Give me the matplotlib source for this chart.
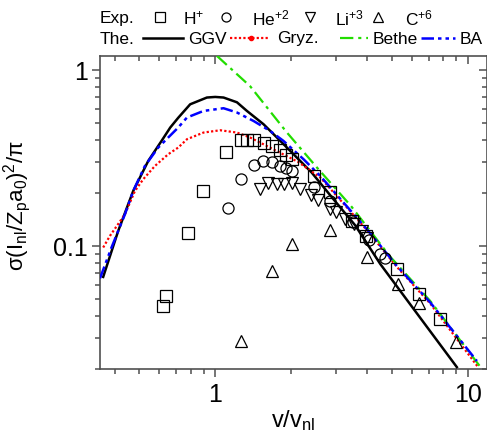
import matplotlib
matplotlib.use("Agg")
import matplotlib.pyplot as plt
from matplotlib.lines import Line2D
from matplotlib.ticker import FixedLocator, LogLocator, NullFormatter

plt.rcParams["font.family"] = ["Liberation Sans", "DejaVu Sans"]
plt.rcParams["mathtext.fontset"] = "custom"
plt.rcParams["mathtext.rm"] = "Liberation Sans"
plt.rcParams["mathtext.it"] = "Liberation Sans:italic"

# experimental points (v/v_nl, reduced cross section)
h_x = [0.638, 0.619, 0.780, 0.894, 1.105, 1.264, 1.342, 1.418, 1.553, 1.677, 1.807,
       1.91, 2.012, 2.465, 2.834, 3.475, 3.96, 5.24, 6.375, 7.77]
h_y = [0.052, 0.0456, 0.119, 0.205, 0.343, 0.399, 0.399, 0.399, 0.387, 0.370, 0.350,
       0.329, 0.311, 0.249, 0.203, 0.1387, 0.114, 0.0738, 0.0532, 0.0383]

he_x = [1.119, 1.264, 1.418, 1.544, 1.677, 1.797, 1.905, 2.012, 2.465, 2.834, 3.507,
        4.043, 4.5, 4.71]
he_y = [0.164, 0.239, 0.287, 0.302, 0.298, 0.285, 0.276, 0.267, 0.216, 0.180, 0.137,
        0.108, 0.0897, 0.0851]

li_x = [1.507, 1.625, 1.754, 1.88, 2.012, 2.17, 2.39, 2.54, 2.85, 3.01, 3.27, 3.53,
        3.81, 3.98]
li_y = [0.212, 0.229, 0.226, 0.226, 0.229, 0.212, 0.195, 0.182, 0.163, 0.155, 0.143,
        0.133, 0.1217, 0.1116]

c_x = [1.267, 1.677, 2.012, 2.834, 3.98, 5.31, 6.375, 8.99]
c_y = [0.0289, 0.0721, 0.102, 0.123, 0.087, 0.0606, 0.0477, 0.0283]

# theory curves
ggv_x = [0.3603, 0.4131, 0.4737, 0.5431, 0.6131, 0.664, 0.714, 0.796, 0.927, 1.0,
         1.079, 1.219, 1.335, 1.553, 1.755, 1.98, 2.41, 2.94, 3.58, 4.5, 6.48, 9.04]
ggv_y = [0.0667, 0.1217, 0.2053, 0.304, 0.395, 0.471, 0.535, 0.638, 0.697, 0.7024,
         0.697, 0.655, 0.585, 0.4915, 0.413, 0.347, 0.261, 0.184, 0.131, 0.079, 0.039,
         0.0205]

gryz_x = [0.3603, 0.383, 0.4393, 0.4812, 0.5189, 0.5773, 0.6516, 0.714, 0.773, 0.899,
          1.047, 1.219, 1.375, 1.7, 2.13, 2.604, 3.219, 3.984, 5.236, 7.1, 11.0]
gryz_y = [0.098, 0.114, 0.1514, 0.2053, 0.2393, 0.2848, 0.3319, 0.3623, 0.404, 0.4408,
          0.4543, 0.4408, 0.413, 0.354, 0.30, 0.245, 0.174, 0.123, 0.076, 0.047, 0.0204]

bethe_x = [1.016, 1.375, 1.922, 2.527, 3.444, 4.897, 7.094, 11.19]
bethe_y = [1.201, 0.808, 0.441, 0.279, 0.1688, 0.0877, 0.0487, 0.0206]

ba_x = [0.35, 0.3887, 0.4393, 0.4737, 0.527, 0.5949, 0.714, 0.773, 0.899, 1.079, 1.219,
        1.418, 1.65, 1.863, 2.236, 2.604, 3.219, 3.984, 5.236, 7.1, 10.85]
ba_y = [0.0655, 0.098, 0.1514, 0.2053, 0.2848, 0.3623, 0.471, 0.5366, 0.585, 0.606, 0.573,
        0.513, 0.45, 0.395, 0.311, 0.25, 0.1765, 0.1244, 0.077, 0.0477, 0.0222]

W, H = 487, 439
fig = plt.figure(figsize=(W / 100, H / 100), dpi=100)
ax = fig.add_axes([100 / W, 1 - 370 / H, 387 / W, 313 / H])

ls_ba = (0, (5, 1.6, 1.4, 1.6, 1.4, 1.6))
ls_bethe = (0, (6, 2.2, 1.4, 2.2))
green = "#22dd00"

ax.plot(ggv_x, ggv_y, color="black", lw=1.8, zorder=3)
ax.plot(gryz_x, gryz_y, color="red", lw=1.6, ls=(0, (1, 1)), zorder=3)
ax.plot(bethe_x, bethe_y, color=green, lw=1.6, ls=ls_bethe, zorder=3)
ax.plot(ba_x, ba_y, color="blue", lw=1.8, ls=ls_ba, zorder=3)

mk = dict(ls="none", mfc="none", mec="black", mew=0.9, ms=8, zorder=4)
ax.plot(h_x, h_y, marker="s", **mk)
ax.plot(he_x, he_y, marker="o", **mk)
ax.plot(li_x, li_y, marker="v", **dict(mk, ms=9))
ax.plot(c_x, c_y, marker="^", **dict(mk, ms=9))

ax.set_xscale("log")
ax.set_yscale("log")
ax.set_xlim(0.35, 11.9)
ax.set_ylim(0.02, 1.2)

spine_c = "#505050"
for s in ax.spines.values():
    s.set_color(spine_c)
    s.set_linewidth(1.2)

ax.xaxis.set_major_locator(FixedLocator([1, 10]))
ax.set_xticklabels(["1", "10"])
ax.yaxis.set_major_locator(FixedLocator([0.1, 1]))
ax.set_yticklabels(["0.1", "1"])
for a in (ax.xaxis, ax.yaxis):
    a.set_minor_locator(LogLocator(base=10, subs=range(2, 10)))
    a.set_minor_formatter(NullFormatter())
ax.tick_params(which="major", direction="out", length=6, width=1.1, color=spine_c,
               labelsize=18, pad=3)
ax.tick_params(which="minor", direction="out", length=3.5, width=1.1, color=spine_c)

top = ax.secondary_xaxis("top")
top.xaxis.set_major_locator(FixedLocator([1, 10]))
top.xaxis.set_minor_locator(LogLocator(base=10, subs=range(2, 10)))
top.tick_params(which="major", direction="in", length=6, width=1.1, color=spine_c, labeltop=False)
top.tick_params(which="minor", direction="in", length=3.5, width=1.1, color=spine_c)
top.spines["top"].set_visible(False)

right = ax.secondary_yaxis("right")
right.yaxis.set_major_locator(FixedLocator([0.1, 1]))
right.yaxis.set_minor_locator(LogLocator(base=10, subs=range(2, 10)))
right.tick_params(which="major", direction="in", length=6, width=1.1, color=spine_c, labelright=False)
right.tick_params(which="minor", direction="in", length=3.5, width=1.1, color=spine_c)
right.spines["right"].set_visible(False)

ax.set_xlabel("v/v$_{\\rm nl}$", fontsize=17)
ax.xaxis.set_label_coords(0.5, -(408 - 370) / 313)
ax.set_ylabel("σ(I$_{\\rm nl}$/Z$_{\\rm p}$a$_0$)$^2$/π", fontsize=16)
ax.yaxis.set_label_coords(-(100 - 33) / 387, (370 - 206) / 313)

# legend drawn in the header, two rows
def fx(px):
    return px / W


def fy(py):
    return 1 - py / H


r1, r2 = 18, 39
fs = 12.5
fig.text(fx(100), fy(r1), "Exp.", fontsize=fs, va="center")
for px, m, lab, tx in [(160, "s", "H$^{+}$", 183), (226, "o", "He$^{+2}$", 252),
                       (310, "v", "Li$^{+3}$", 335), (378, "^", "C$^{+6}$", 405)]:
    fig.add_artist(Line2D([fx(px)], [fy(r1)], marker=m, ms=6.5, mfc="none", mec="black",
                          mew=0.9, transform=fig.transFigure))
    fig.text(fx(tx), fy(r1), lab, fontsize=fs, va="center")

fig.text(fx(100), fy(r2), "The.", fontsize=fs, va="center")
for x0, x1, kw, lab, tx in [
    (143, 183, dict(color="black", lw=1.8), "GGV", 188),
    (230, 270, dict(color="red", lw=1.6, ls=(0, (1, 1))), "Gryz.", 277),
    (340, 368, dict(color=green, lw=1.6, ls=ls_bethe), "Bethe", 373),
    (421, 455, dict(color="blue", lw=1.8, ls=ls_ba), "BA", 460),
]:
    fig.add_artist(Line2D([fx(x0), fx(x1)], [fy(r2), fy(r2)], transform=fig.transFigure, **kw))
    fig.text(fx(tx), fy(r2), lab, fontsize=fs, va="center")
fig.add_artist(Line2D([fx(251)], [fy(r2)], marker="o", ms=3, color="red", transform=fig.transFigure))

fig.savefig("out.png", dpi=100)
